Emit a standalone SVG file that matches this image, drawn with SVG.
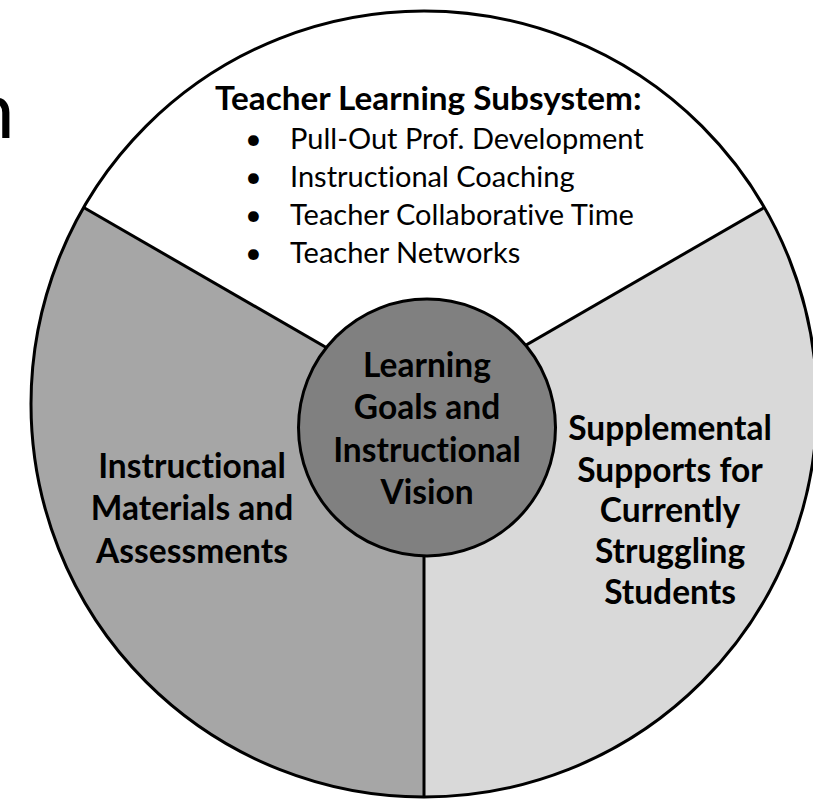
<svg xmlns="http://www.w3.org/2000/svg" width="813" height="802" viewBox="0 0 813 802">
<style>
text{font-variant-ligatures:none}
.sec{stroke:none}
.edge{fill:none;stroke:#000;stroke-width:3}
.bold{font-family:Lato,"Liberation Sans",sans-serif;font-weight:bold;font-size:33.5px;fill:#000;text-anchor:middle}
.item{font-family:Lato,"Liberation Sans",sans-serif;font-size:29px;fill:#000}
</style>
<rect width="813" height="802" fill="#fff"/>
<text x="-30" y="138" font-family="Lato,'Liberation Sans',sans-serif" font-size="80" fill="#000">n</text>
<g id="sector-top">
<path class="sec" fill="#ffffff" d="M424 404 L83.7 207.5 A393 393 0 0 1 764.3 207.5 Z"/>
</g>
<g id="sector-left">
<path class="sec" fill="#a6a6a6" d="M424 404 L424 797 A393 393 0 0 1 83.7 207.5 Z"/>
</g>
<g id="sector-right">
<path class="sec" fill="#d9d9d9" d="M424 404 L764.3 207.5 A393 393 0 0 1 424 797 Z"/>
</g>
<g id="connectors">
<circle class="edge" cx="424" cy="404" r="393"/>
<line class="edge" x1="424" y1="404" x2="83.7" y2="207.5"/>
<line class="edge" x1="424" y1="404" x2="764.3" y2="207.5"/>
<line class="edge" x1="424" y1="404" x2="424" y2="797"/>
</g>
<g id="center">
<circle cx="427" cy="427.5" r="128.5" fill="#808080" stroke="#000" stroke-width="3"/>
<text class="bold" x="427" y="377">Learning</text>
<text class="bold" x="427" y="419">Goals and</text>
<text class="bold" x="427" y="462">Instructional</text>
<text class="bold" x="427" y="504">Vision</text>
</g>
<g id="teacher-learning">
<text font-family="Lato,'Liberation Sans',sans-serif" font-weight="bold" font-size="33.3" x="215" y="110">Teacher Learning Subsystem:</text>
<text class="item" x="245" y="149">•</text><text class="item" x="290" y="149">Pull-Out Prof. Development</text>
<text class="item" x="245" y="187">•</text><text class="item" x="290" y="187">Instructional Coaching</text>
<text class="item" x="245" y="225">•</text><text class="item" x="290" y="225">Teacher Collaborative Time</text>
<text class="item" x="245" y="263">•</text><text class="item" x="290" y="263">Teacher Networks</text>
</g>
<g id="materials">
<text class="bold" x="192" y="478">Instructional</text>
<text class="bold" x="192" y="520">Materials and</text>
<text class="bold" x="192" y="563">Assessments</text>
</g>
<g id="supplemental">
<text class="bold" x="670" y="440">Supplemental</text>
<text class="bold" x="670" y="482">Supports for</text>
<text class="bold" x="670" y="522">Currently</text>
<text class="bold" x="670" y="563">Struggling</text>
<text class="bold" x="670" y="604">Students</text>
</g>
</svg>
